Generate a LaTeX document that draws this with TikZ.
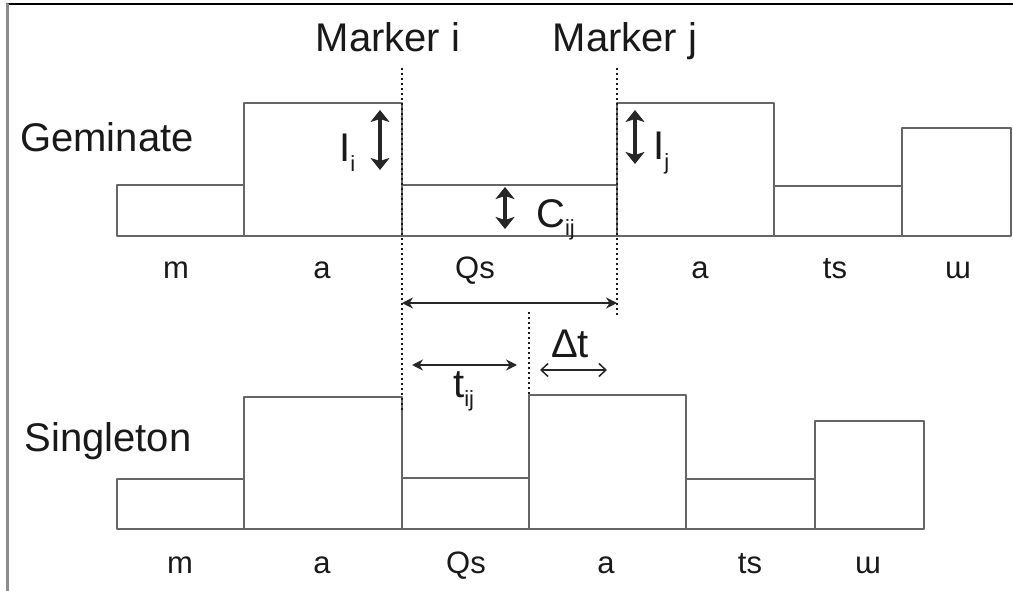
\documentclass[tikz,border=0pt]{standalone}
\usepackage{fontspec}
\setmainfont{Liberation Sans}
\usetikzlibrary{arrows.meta}
\newcommand{\lowsub}[2][10pt]{\raisebox{-#1}{\fontsize{22}{24}\selectfont #2}}

\begin{document}
\begin{tikzpicture}[x=1pt, y=-1pt, line cap=round, line join=round]
  \def\yg{236} % đáy hàng Geminate
  \def\ys{529} % đáy hàng Singleton
  \tikzset{
    box/.style={line width=1.8pt, draw=black!60},
    marker_line/.style={line width=2.6pt, line cap=butt, dash pattern=on 2.4pt off 2.6pt, draw=black!90},
    len_arrow/.style={line width=3.6pt, {Stealth[length=12pt, width=19pt, inset=3pt]}-{Stealth[length=12pt, width=19pt, inset=3pt]}, draw=black!85},
    span_arrow/.style={line width=1.8pt, {Stealth[length=11pt, width=11pt]}-{Stealth[length=11pt, width=11pt]}, draw=black!85},
    shift_arrow/.style={line width=1.5pt, {Straight Barb[length=7pt, width=13pt]}-{Straight Barb[length=7pt, width=13pt]}, draw=black!85},
    big_text/.style={font=\fontsize{40}{48}\selectfont, text=black!90, inner sep=0pt, anchor=base},
    seg_text/.style={font=\fontsize{31}{36}\selectfont, text=black!90, inner sep=0pt, anchor=base}
  }
  \useasboundingbox (0,0) rectangle (1013,591);

  % khung
  \draw[line width=2pt, black] (7,4) -- (1013,4);
  \draw[line width=3pt, black!45] (7,4) -- (7,591);

  % tiêu đề
  \node[big_text] (marker_i) at (388,52) {Marker i};
  \node[big_text] (marker_j) at (625,52) {Marker j};
  \node[big_text] (geminate) at (107,152) {Geminate};
  \node[big_text] (singleton) at (108,451) {Singleton};

  % hàng Geminate
  \draw[box] (117,\yg) rectangle (244,185);
  \draw[box] (244,\yg) rectangle (402,103);
  \draw[box] (402,\yg) rectangle (617,185);
  \draw[box] (617,\yg) rectangle (774,103);
  \draw[box] (774,\yg) rectangle (902,186);
  \draw[box] (902,\yg) rectangle (1011,128);

  \node[seg_text] (gem_m) at (176,278) {m};
  \node[seg_text] (gem_a1) at (322,278) {a};
  \node[seg_text] (gem_qs) at (475,278) {Qs};
  \node[seg_text] (gem_a2) at (700,278) {a};
  \node[seg_text] (gem_ts) at (835,278) {ts};
  \node[seg_text] (gem_w) at (958,278) {ɯ};

  % hàng Singleton
  \draw[box] (117,\ys) rectangle (244,479);
  \draw[box] (244,\ys) rectangle (402,397);
  \draw[box] (402,\ys) rectangle (529,478);
  \draw[box] (529,\ys) rectangle (686,395);
  \draw[box] (686,\ys) rectangle (815,479);
  \draw[box] (815,\ys) rectangle (924,421);

  \node[seg_text] (sin_m) at (180,573) {m};
  \node[seg_text] (sin_a1) at (322,573) {a};
  \node[seg_text] (sin_qs) at (466,573) {Qs};
  \node[seg_text] (sin_a2) at (606,573) {a};
  \node[seg_text] (sin_ts) at (750,573) {ts};
  \node[seg_text] (sin_w) at (868,573) {ɯ};

  % đường đánh dấu
  \coordinate (mi_top) at (402,68);
  \coordinate (mi_bot) at (402,410);
  \coordinate (mj_top) at (617,68);
  \coordinate (mj_bot) at (617,316);
  \coordinate (mid_top) at (529,312);
  \coordinate (mid_bot) at (529,395);
  \draw[marker_line] (mi_top) -- (mi_bot);
  \draw[marker_line] (mj_top) -- (mj_bot);
  \draw[marker_line] (mid_top) -- (mid_bot);

  % độ dài I_i, I_j, C_ij
  \coordinate (ii_top) at (380,110);
  \coordinate (ii_bot) at (380,170);
  \draw[len_arrow] (ii_top) -- (ii_bot);
  \node[big_text, anchor=base west] (ii_lbl) at (339,162) {I\lowsub{i}};

  \coordinate (ij_top) at (635,110);
  \coordinate (ij_bot) at (635,164);
  \draw[len_arrow] (ij_top) -- (ij_bot);
  \node[big_text, anchor=base west] (ij_lbl) at (653,160) {I\lowsub{j}};

  \coordinate (cij_top) at (505,187);
  \coordinate (cij_bot) at (505,229);
  \draw[len_arrow] (cij_top) -- (cij_bot);
  \node[big_text, anchor=base west] (cij_lbl) at (536,227) {C\lowsub[9pt]{ij}};

  % khoảng thời gian
  \coordinate (gap_l) at (402,303);
  \coordinate (gap_r) at (617,303);
  \draw[span_arrow] (gap_l) -- (gap_r);

  \coordinate (tij_l) at (412,365);
  \coordinate (tij_r) at (517,365);
  \draw[span_arrow] (tij_l) -- (tij_r);
  \node[big_text, anchor=base west] (tij_lbl) at (453,397) {t\lowsub[9pt]{ij}};

  \coordinate (dt_l) at (540,370);
  \coordinate (dt_r) at (607,370);
  \draw[shift_arrow] (dt_l) -- (dt_r);
  \node[big_text, anchor=base west] (dt_lbl) at (551,357) {Δt};

\end{tikzpicture}
\end{document}
